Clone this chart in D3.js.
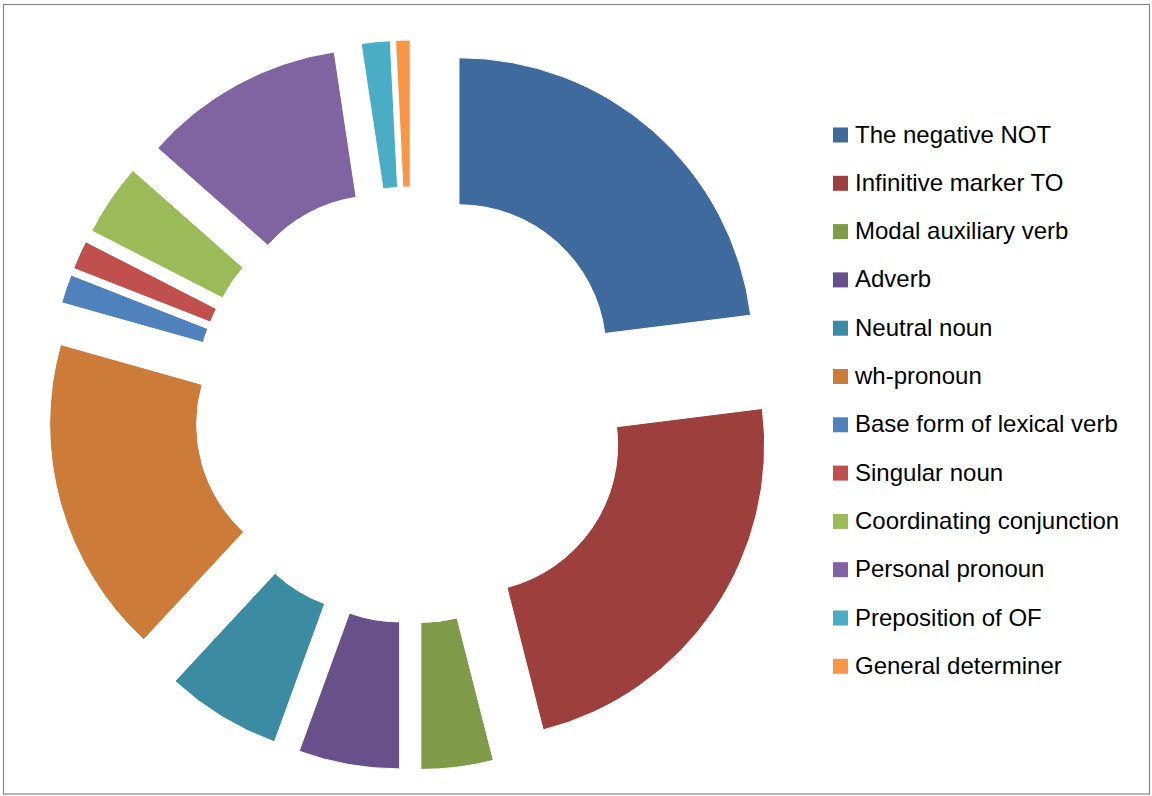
<!DOCTYPE html>
<html>
<head>
<meta charset="utf-8">
<script src="https://cdn.jsdelivr.net/npm/d3@7"></script>
<style>
  html, body { margin: 0; padding: 0; background: #fff; }
  svg { display: block; }
</style>
</head>
<body>
<svg id="chart" width="1152" height="796"></svg>
<script>
// Word-class counts, in drawing order (clockwise from 12 o'clock)
const categories = [
  "The negative NOT",
  "Infinitive marker TO",
  "Modal auxiliary verb",
  "Adverb",
  "Neutral noun",
  "wh-pronoun",
  "Base form of lexical verb",
  "Singular noun",
  "Coordinating conjunction",
  "Personal pronoun",
  "Preposition of OF",
  "General determiner"
];
const counts = [29, 29, 5, 7, 8, 22, 2, 2, 5, 14, 2, 1];
const colors = [
  "#3F6A9D", "#9D403D", "#7F9A48", "#68518A", "#3B8BA2", "#CC7B38",
  "#4F81BD", "#C0504D", "#9BBB59", "#8064A2", "#4BACC6", "#F79646"
];

const svg = d3.select("#chart");

// Frame
svg.append("rect")
  .attr("x", 3.5).attr("y", 4.5)
  .attr("width", 1146).attr("height", 789.5)
  .attr("fill", "none")
  .attr("stroke", "#868686")
  .attr("stroke-width", 1.2);

const cx = 412, cy = 405;
const outerR = 294, innerR = 147, explode = 71;

const pie = d3.pie().sort(null).value(d => d.value).startAngle(0).endAngle(2 * Math.PI);
const arc = d3.arc().innerRadius(innerR).outerRadius(outerR);

const data = categories.map((c, i) => ({ name: c, value: counts[i], color: colors[i] }));

const g = svg.append("g").attr("transform", `translate(${cx},${cy})`);

// Each slice is pushed outward along its own bisector
g.selectAll("path.slice")
  .data(pie(data))
  .join("path")
  .attr("class", "slice")
  .attr("d", arc)
  .attr("fill", d => d.data.color)
  .attr("stroke", "#fff")
  .attr("stroke-width", 1)
  .attr("transform", d => {
    const mid = (d.startAngle + d.endAngle) / 2;
    return `translate(${Math.sin(mid) * explode},${-Math.cos(mid) * explode})`;
  });

// Legend
const legendX = 833, legendY0 = 135, legendStep = 48.3;
const legend = svg.append("g");
const items = legend.selectAll("g.item")
  .data(data)
  .join("g")
  .attr("class", "item")
  .attr("transform", (d, i) => `translate(${legendX},${legendY0 + i * legendStep})`);

items.append("rect")
  .attr("x", 0).attr("y", -7.5)
  .attr("width", 15).attr("height", 15)
  .attr("fill", d => d.color);

items.append("text")
  .attr("x", 22).attr("y", 7.5)
  .attr("font-family", "'Liberation Sans', Arial, sans-serif")
  .attr("font-size", 24)
  .attr("fill", "#000")
  .text(d => d.name);
</script>
</body>
</html>
